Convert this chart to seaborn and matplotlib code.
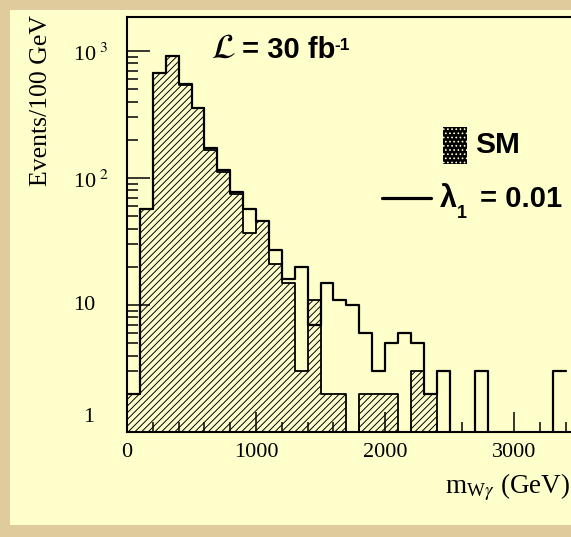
import numpy as np
import pandas as pd
import matplotlib
matplotlib.use("Agg")
import matplotlib.pyplot as plt
import matplotlib.transforms as mtrans
from matplotlib.patches import Rectangle
from matplotlib.lines import Line2D
from matplotlib.ticker import FixedLocator, LogLocator, NullFormatter, MultipleLocator
import seaborn as sns

# ---------------- data ----------------
bin_edges = list(range(0, 3500, 100))          # GeV, 100 GeV bins 0..3400
sm_counts = [2, 57, 667, 918, 535, 354, 165, 112, 75, 37, 46, 21, 15, 3, 11, 2, 2,
             0, 2, 2, 2, 0, 3, 2, 0, 0, 0, 0, 0, 0, 0, 0, 0, 0]
lambda_counts = [2, 57, 667, 918, 550, 354, 171, 115, 78, 57, 46, 27, 16, 20, 7, 15, 11,
                 10, 6, 3, 5, 6, 5, 2, 3, 0, 0, 3, 0, 0, 0, 0, 0, 3]
x_ticks = [0, 1000, 2000, 3000]
x_tick_labels = ["0", "1000", "2000", "3000"]
y_ticks = [1, 10, 100, 1000]
y_tick_labels = ["1", "10", r"$\mathregular{10}^{\ 2}$", r"$\mathregular{10}^{\ 3}$"]

# ---------------- style ----------------
sns.set_theme(style="white")
plt.rcParams["font.family"] = ["Liberation Serif", "DejaVu Serif"]
plt.rcParams["mathtext.fontset"] = "stix"
plt.rcParams["hatch.linewidth"] = 0.7
for k in ["text.color", "axes.labelcolor", "xtick.color", "ytick.color", "axes.edgecolor"]:
    plt.rcParams[k] = "black"

W, H = 571, 537
fig = plt.figure(figsize=(W / 100, H / 100), dpi=100)
fig.patch.set_facecolor("#E0CB9C")
fig.add_artist(Rectangle((10 / W, 1 - 525 / H), 1.0, (525 - 10) / H,
                         transform=fig.transFigure, facecolor="#FFFFCC",
                         edgecolor="none", zorder=0))

ax = fig.add_axes([127 / W, 105 / H, 516 / W, (519.7 - 105) / H])
ax.set_facecolor("none")
ax.set_yscale("log")

centers = [e + 50 for e in bin_edges[:-1]]
df = pd.DataFrame({"m": centers, "sm": sm_counts, "lam": lambda_counts})

# SM: hatched filled histogram
n_before = len(ax.collections)
sns.histplot(data=df, x="m", weights="sm", bins=bin_edges, element="step",
             fill=True, color="black", ax=ax, linewidth=1.3)
poly = ax.collections[n_before]
poly.set_facecolor("none")
poly.set_edgecolor("black")
poly.set_hatch("/////")
poly.set_linewidth(1.3)
poly.set_alpha(1)

# lambda_1 = 0.01: outline histogram
sns.histplot(data=df, x="m", weights="lam", bins=bin_edges, element="step",
             fill=False, color="black", ax=ax, linewidth=1.6)

ax.set_xlim(0, 4000)
ax.set_ylim(1, 1842)
ax.set_xlabel("")
ax.set_ylabel("")

for s in ax.spines.values():
    s.set_linewidth(1.5)
    s.set_color("black")

# ticks (ROOT style, inward)
ax.xaxis.set_major_locator(FixedLocator(x_ticks))
ax.xaxis.set_minor_locator(MultipleLocator(200))
ax.set_xticklabels(x_tick_labels)
ax.tick_params(axis="x", which="major", direction="in", length=14.5, width=1.1,
               labelsize=16, pad=8, bottom=True, top=False, colors="black")
ax.tick_params(axis="x", which="minor", direction="in", length=7, width=1.1,
               bottom=True, top=False, colors="black")
ax.yaxis.set_major_locator(FixedLocator(y_ticks))
ax.yaxis.set_minor_locator(LogLocator(base=10, subs=np.arange(2, 10)))
ax.yaxis.set_minor_formatter(NullFormatter())
ax.tick_params(axis="y", which="major", direction="in", length=16.5, width=1.1,
               left=True, right=False, labelleft=False, colors="black")
ax.tick_params(axis="y", which="minor", direction="in", length=8, width=1.1,
               left=True, right=False, colors="black")

# y tick labels (placed like the ROOT original)
for val, lab in zip(y_ticks, y_tick_labels):
    dy = 15 if val == 1 else (-4 if val == 1000 else (-4 if val == 100 else -1))
    x0 = 83 if val == 1 else 73
    tr = mtrans.blended_transform_factory(fig.transFigure, ax.transData) + \
        mtrans.ScaledTranslation(0, dy / 100, fig.dpi_scale_trans)
    ax.text(x0 / W, val, lab, transform=tr, ha="left", va="center",
            fontsize=16, clip_on=False, color="black")

# axis titles
fig.text(41 / W, 1 - 100 / H, "Events/100 GeV", rotation=90, ha="center",
         va="center", fontsize=18.5, color="black")
fig.text(445 / W, 1 - 493 / H, r"m$_{\mathregular{W}\gamma}$ (GeV)", ha="left",
         va="baseline", fontsize=19.5, color="black")

# luminosity label
sans = ["Liberation Sans Narrow", "Liberation Sans", "DejaVu Sans"]
fig.text(211 / W, 1 - 49 / H, r"$\mathcal{L}$", ha="left", va="center",
         fontsize=25, color="black")
fig.text(242 / W, 1 - 50 / H, "= 30 fb", ha="left", va="center",
         fontsize=21, fontweight="bold", family=sans, color="black")
fig.text(334 / W, 1 - 46 / H, "-1", ha="left", va="center",
         fontsize=12.5, fontweight="bold", family=sans, color="black")

# legend
fig.add_artist(Rectangle((443 / W, 1 - 164 / H), 24 / W, 37 / H, transform=fig.transFigure,
                         facecolor="black", edgecolor="none", zorder=5))
fig.add_artist(Rectangle((443 / W, 1 - 164 / H), 24 / W, 37 / H, transform=fig.transFigure,
                         facecolor="none", edgecolor="#FFFFCC", hatch="....",
                         linewidth=0, zorder=6))
fig.text(475 / W, 1 - 145 / H, "SM", ha="left", va="center", fontsize=21.5,
         fontweight="bold", family=sans, color="black")
fig.add_artist(Line2D([382 / W, 431 / W], [1 - 198 / H, 1 - 198 / H],
                      transform=fig.transFigure, color="black", linewidth=2.3))
fig.text(440 / W, 1 - 207 / H, "λ", ha="left", va="baseline",
         fontsize=22, fontweight="bold", family=sans, color="black")
fig.text(457 / W, 1 - 218 / H, "1", ha="left", va="baseline",
         fontsize=13, fontweight="bold", family=sans, color="black")
fig.text(480 / W, 1 - 207 / H, "= 0.01", ha="left", va="baseline",
         fontsize=21, fontweight="bold", family=sans, color="black")

fig.savefig("out.png", dpi=100, facecolor=fig.get_facecolor())
